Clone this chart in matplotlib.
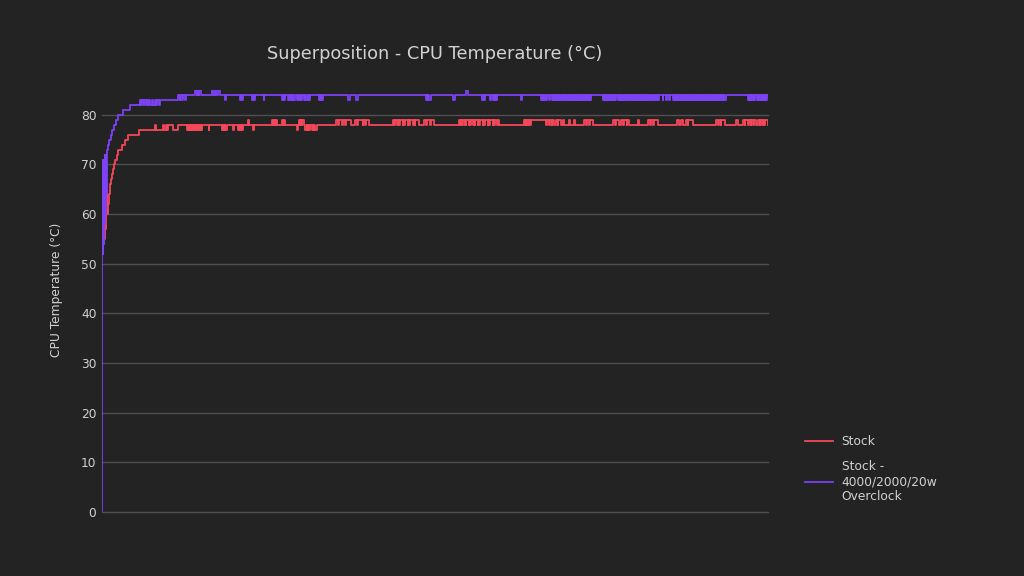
import matplotlib.pyplot as plt

# time axis in seconds from start of the run, temperatures in °C
# --- Stock ---
stock_ramp_t = [1, 1.5, 2.0, 2.5, 3.0, 3.5, 4.0, 4.5, 5.0, 6, 7, 8, 9, 10, 11, 12, 13, 15,
                16.3, 19.7, 23, 26.3, 37, 53, 54, 61, 62.3, 63.5, 64.5, 66, 71.3]
stock_ramp_v = [54, 60, 55, 63, 57, 64, 60, 66, 60, 62, 64, 66, 67, 68, 69, 70, 71, 72,
                73, 74, 75, 76, 77, 78, 77, 78, 77, 78, 77, 78, 77]
stock_base_start = 76.3
stock_base = 78
stock_low = [(84.7, 85.5), (86.1, 87), (87.6, 88.6), (89.2, 90), (90.6, 91.8), (92.4, 93.2),
             (93.8, 94.8), (95.4, 96.4), (97, 97.8), (98.4, 99.7), (106.3, 107.1),
             (119.7, 120.7), (121.3, 122.5), (123.1, 124.7), (131, 132), (136, 137.2),
             (137.8, 139), (139.6, 141), (151, 152), (194.7, 195.4), (203, 204.2),
             (204.8, 205.6), (206.2, 207.8), (209.5, 210.4), (211, 212), (212.6, 214.6)]
stock_high = [(146, 146.8), (169.7, 171), (171.6, 173), (173.6, 174.7), (179.7, 181),
              (181.6, 183), (196.3, 197.5), (198.1, 199.3), (199.9, 201.3),
              (234, 236), (236.6, 239.5), (240.2, 243), (243.6, 248.7),
              (253, 255), (255.6, 260), (260.6, 262.5), (263.2, 266.3),
              (290.3, 291.2), (292, 294.5), (295.2, 296.2), (297, 300), (300.6, 301.6),
              (302.4, 305), (305.6, 306.6), (307.4, 310), (311, 312), (312.8, 316.3),
              (321.3, 323.8), (324.5, 327.5), (328.2, 331.3),
              (356.3, 357.5), (358.1, 359), (359.6, 361.5), (362.1, 363), (363.6, 366),
              (366.6, 367.4), (368, 370.5), (371.1, 372), (372.6, 375), (375.6, 376.6),
              (377.2, 380), (380.6, 381.4), (382, 385), (385.6, 386.4), (387, 390),
              (390.6, 391.4), (392, 394.5), (395.1, 396.3),
              (420.7, 421.8), (422.4, 424), (424.6, 425.6), (426.2, 427.4), (428, 443.3),
              (444.2, 446), (447.3, 449), (449.6, 451.3), (453, 455), (455.6, 458),
              (459.7, 461.3), (466.3, 467.3), (471.3, 472.3), (481.3, 483.5), (484.1, 486),
              (486.6, 489.7), (509.7, 512), (512.6, 516.3), (518, 520), (520.6, 523.5),
              (524.1, 526.3), (534.7, 536.3), (544.7, 547), (547.6, 550), (550.6, 554.7),
              (574, 575.5), (578, 579.7), (583, 584.6), (585.2, 589.7), (613, 615),
              (615.6, 617.4), (618, 621.3), (633, 634.7), (639.7, 641.5), (642.2, 645),
              (645.6, 647.4), (648, 650), (650.6, 653), (654.7, 656.5), (657.1, 659),
              (659.7, 661), (661.6, 664.7)]

# --- Stock - 4000/2000/20w Overclock ---
oc_ramp_t = [0, 0.4, 0.8, 1.2, 1.6, 2.0, 2.4, 2.8, 3.2, 3.6, 4.0, 4.6, 5.4, 6.2, 7.2, 8.5,
             10.3, 12, 14, 16.3, 20.7, 28, 38, 39, 40, 41.5, 42, 44, 45, 46, 47, 48, 49.5,
             51, 53, 54, 55, 56.5, 58]
oc_ramp_v = [0, 71, 52, 71, 54, 70, 58, 72, 60, 72, 64, 72, 73, 74, 75, 76,
             77, 78, 79, 80, 81, 82, 83, 82, 83, 82, 83, 82, 83, 82, 83, 82, 83,
             82, 83, 82, 83, 82, 83]
oc_base_start = 76.3
oc_base = 84
oc_low = [(77.5, 78), (80, 80.7), (83, 84), (123, 123.8), (138, 139), (139.6, 140.8),
          (149.8, 150.8), (151.5, 153), (161.3, 162.1), (179.7, 180.5), (181.2, 183),
          (186, 187), (187.6, 188.6), (189.3, 190.3), (191, 193), (194.7, 195.7),
          (196.4, 197.4), (198.2, 199.7), (201.3, 202.3), (203, 204.5), (205.2, 206.2),
          (207, 208), (216.3, 217.3), (218, 219), (219.6, 220.7),
          (245.7, 247.3), (254, 255.3), (323, 324), (324.6, 325.6), (326.3, 328),
          (350.7, 352), (379.7, 380.6), (381.2, 382), (387.3, 388.7), (390.3, 391.5),
          (392.1, 393), (393.6, 394.7), (418, 419.3),
          (438.2, 439), (439.6, 440.6), (441.2, 442.2), (442.8, 443.8), (446.3, 447.2),
          (449, 449.8), (450.4, 451.2), (451.8, 453), (453.6, 454.4), (455, 456),
          (456.6, 457.6), (458.2, 459), (459.8, 461), (461.6, 462.4), (463, 464.2),
          (464.8, 465.6), (466.4, 467.4), (468, 469), (469.6, 470.4), (471, 472.2),
          (472.8, 473.6), (474.4, 475.4), (476, 477), (477.6, 478.6), (479.2, 480),
          (480.8, 482), (482.6, 483.4), (484.2, 485.2), (485.8, 486.8), (487.4, 488.2),
          (499.8, 500.6), (501.2, 502.2), (502.8, 503.6), (504.2, 505.4), (506, 506.8),
          (507.4, 508.4), (509, 510), (510.6, 511.4), (512, 513.2), (514.8, 515.6),
          (516.2, 517.2), (517.8, 518.8), (519.4, 520.2), (520.8, 522), (522.6, 523.4),
          (524, 525), (525.6, 526.6), (528.4, 529.2), (529.8, 530.8), (531.4, 532.4),
          (533, 533.8), (534.4, 535.6), (536.2, 537), (537.6, 538.6), (539.2, 540.2),
          (540.8, 541.6), (542.2, 543.4), (544, 544.8), (545.4, 546.4), (547, 548),
          (548.6, 549.6), (551, 551.8), (553, 553.8), (555, 556), (559.7, 560.4),
          (563, 563.7), (566.3, 567), (570, 570.8), (571.4, 572.4), (573, 573.8),
          (574.6, 575.6), (576.2, 577), (577.6, 578.6), (579.2, 580.2), (580.8, 581.6),
          (582.2, 583.4), (584, 584.8), (585.4, 586.4), (587, 588), (588.6, 589.4),
          (590, 591.2), (591.8, 592.6), (593.2, 594.2), (594.8, 595.6), (596.2, 597.4),
          (598, 598.8), (599.4, 600.4), (601, 602), (602.6, 603.4), (604, 605.2),
          (605.8, 606.6), (607.2, 608.2), (608.8, 609.6), (610.2, 611.4), (612, 612.8),
          (613.4, 614.4), (615, 616), (616.6, 617.4), (618, 619.2), (619.8, 620.6),
          (621.2, 622.4), (644.8, 645.6), (646.2, 647.2), (647.8, 648.6), (649.2, 650.4),
          (651, 651.8), (653.4, 654.4), (655, 655.8), (656.4, 657.6), (658.2, 659),
          (659.6, 660.6), (661.2, 662), (662.6, 663.8)]
oc_high = [(93, 94.5), (95.2, 96.5), (97.2, 98.6), (109.8, 110.6), (113.2, 114.2),
           (116.2, 117.5), (363, 365)]
t_end = 664.7

bg = "#232323"
text_color = "#d2d2d2"
red = "#f4475a"
purple = "#7c42f4"


def build(ramp_t, ramp_v, base_start, base, excursions):
    t = list(ramp_t) + [base_start]
    v = list(ramp_v) + [base]
    for a, b, val in sorted(excursions):
        t += [a, b]
        v += [val, base]
    t.append(t_end)
    v.append(v[-1])
    return t, v


stock_t, stock_v = build(stock_ramp_t, stock_ramp_v, stock_base_start, stock_base,
                         [(a, b, 77) for a, b in stock_low] + [(a, b, 79) for a, b in stock_high])
oc_t, oc_v = build(oc_ramp_t, oc_ramp_v, oc_base_start, oc_base,
                   [(a, b, 83) for a, b in oc_low] + [(a, b, 85) for a, b in oc_high])

plt.rcParams["font.family"] = ["DejaVu Sans"]
fig = plt.figure(figsize=(10.24, 5.76), dpi=100, facecolor=bg)
ax = fig.add_axes([102 / 1024, 64 / 576, 666 / 1024, 422 / 576])
ax.set_facecolor(bg)

ax.plot(stock_t, stock_v, drawstyle="steps-post", color=red, lw=1.3, label="Stock")
ax.plot(oc_t, oc_v, drawstyle="steps-post", color=purple, lw=1.3,
        label="Stock -\n4000/2000/20w\nOverclock")

ax.set_xlim(0, t_end)
ax.set_ylim(0, 85)
ax.set_yticks(range(0, 81, 10))
ax.set_xticks([])
ax.yaxis.grid(True, color="#505050", lw=1)
for gl in ax.get_ygridlines():
    gl.set_clip_on(False)
ax.set_axisbelow(True)
for s in ax.spines.values():
    s.set_visible(False)
ax.tick_params(axis="y", length=0, pad=4, labelcolor=text_color, labelsize=8.8)

fig.text(435 / 1024, 1 - 54 / 576, "Superposition - CPU Temperature (°C)",
         ha="center", va="center", color=text_color, fontsize=12.8)
fig.text(57 / 1024, 1 - 290 / 576, "CPU Temperature (°C)", rotation=90,
         ha="center", va="center", color=text_color, fontsize=8.8)

leg = fig.legend(loc="upper left", bbox_to_anchor=(805 / 1024, 1 - 435 / 576),
                 frameon=False, fontsize=8.8, handlelength=2.3, handletextpad=0.7,
                 labelspacing=1.0, borderaxespad=0, borderpad=0)
for txt in leg.get_texts():
    txt.set_color(text_color)

fig.savefig("out.png", dpi=100, facecolor=bg)
